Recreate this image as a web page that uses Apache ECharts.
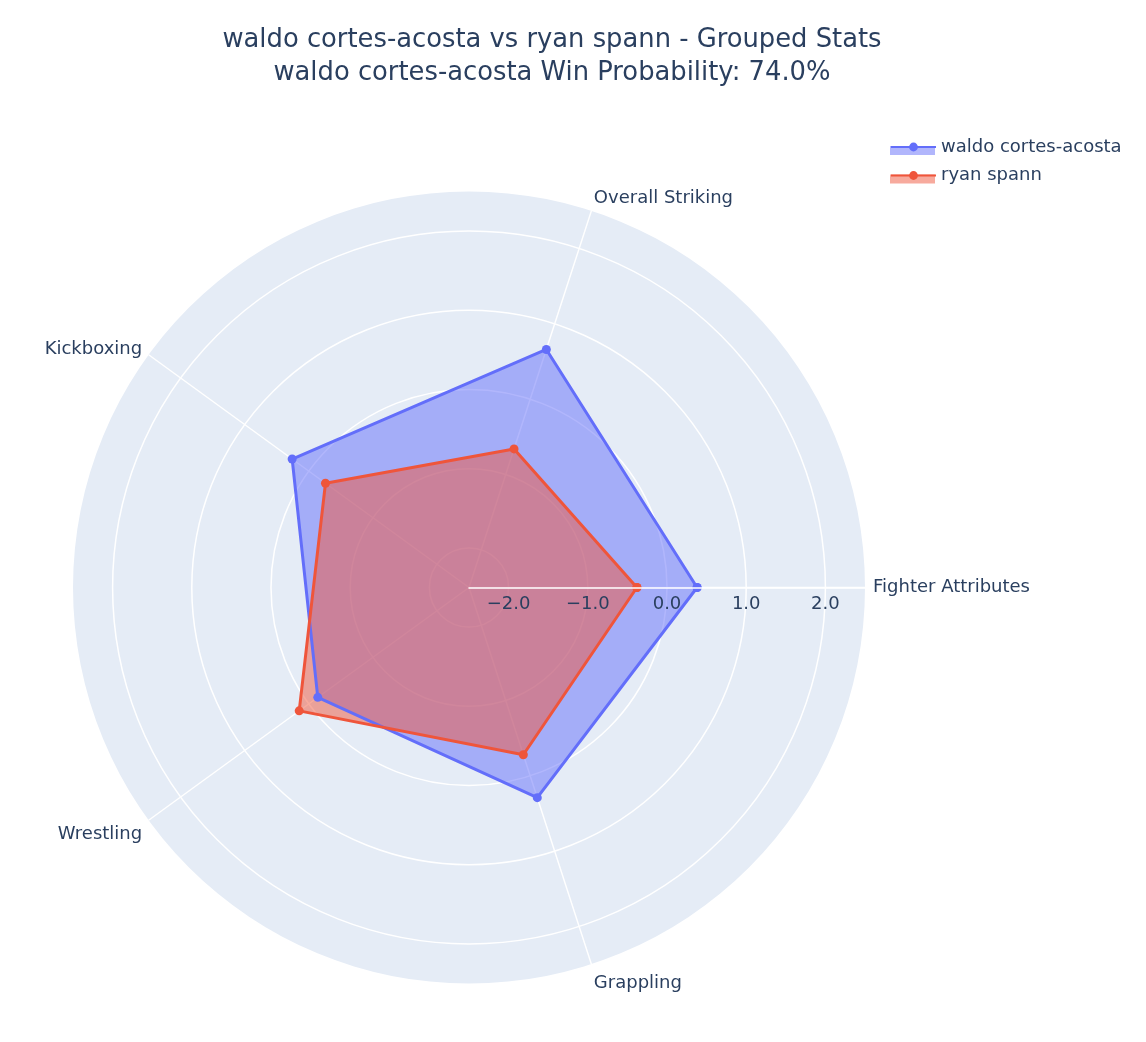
<!DOCTYPE html>
<html>
<head>
<meta charset="utf-8">
<title>waldo cortes-acosta vs ryan spann</title>
<script src="https://cdn.jsdelivr.net/npm/echarts@6/dist/echarts.min.js"></script>
<style>
  html, body { margin: 0; padding: 0; background: #fff; }
  #main { width: 1146px; height: 1042px; }
</style>
</head>
<body>
<div id="main"></div>
<script>
// categories (counter-clockwise from the right)
var categories = ['Fighter Attributes', 'Overall Striking', 'Kickboxing', 'Wrestling', 'Grappling'];
// grouped stats per fighter
var waldo = [0.38, 0.66, 0.26, -0.14, 0.29];
var ryan = [-0.38, -0.66, -0.26, 0.15, -0.28];
// radial tick labels
var radialTicks = [-2, -1, 0, 1, 2];
var radialMin = -2.5;
var radialMax = 2.5;

var FONT = 'DejaVu Sans';
var TEXT = '#2a3f5f';
var CENTER = [469, 587.5];
var RADIUS = 396;

// close the polygon: go back to the first category at 360 degrees
var step = 360 / categories.length;
var toPoints = function(vals){
    var pts = vals.map(function(v, i){ return [v, i * step]; });
    pts.push([vals[0], 360]);
    return pts;
};

var fmtTick = function(v){
    for (var i = 0; i < radialTicks.length; i++) {
        if (Math.abs(radialTicks[i] - v) < 1e-6) {
            return (v < 0 ? '\u2212' : '') + Math.abs(radialTicks[i]).toFixed(1);
        }
    }
    return '';
};

// line heights nudge the category labels to sit like the original
var catRich = {
    c0: { fontFamily: FONT, fontSize: 18, color: TEXT, lineHeight: 18 },
    c1: { fontFamily: FONT, fontSize: 18, color: TEXT, lineHeight: 10 },
    c2: { fontFamily: FONT, fontSize: 18, color: TEXT, lineHeight: 2 },
    c3: { fontFamily: FONT, fontSize: 18, color: TEXT, lineHeight: 18 },
    c4: { fontFamily: FONT, fontSize: 18, color: TEXT, lineHeight: 24 }
};

var angleBase = function(idx){
    return { polarIndex: idx, type: 'value', min: 0, max: 360, interval: step, startAngle: 0, clockwise: false };
};
var radiusBase = function(idx){
    return { polarIndex: idx, type: 'value', min: radialMin, max: radialMax, interval: 0.5 };
};

var myChart = echarts.init(document.getElementById('main'));
myChart.setOption({
    animation: false,
    backgroundColor: '#fff',
    title: {
        text: 'waldo cortes-acosta vs ryan spann - Grouped Stats\nwaldo cortes-acosta Win Probability: 74.0%',
        left: 547,
        top: 19,
        textAlign: 'center',
        textStyle: {
            fontFamily: FONT,
            fontSize: 25.8,
            fontWeight: 'normal',
            color: TEXT,
            lineHeight: 33
        }
    },
    legend: {
        orient: 'vertical',
        left: 885,
        top: 132,
        itemWidth: 45,
        itemHeight: 11,
        itemGap: 8.5,
        textStyle: { fontFamily: FONT, fontSize: 18, color: TEXT, lineHeight: 20 },
        data: ['waldo cortes-acosta', 'ryan spann']
    },
    graphic: [
        { type: 'rect', left: 890, top: 146, z: 1, shape: { width: 45, height: 9 }, style: { fill: 'rgba(99,110,250,0.5)' } },
        { type: 'rect', left: 890, top: 174.5, z: 1, shape: { width: 45, height: 9 }, style: { fill: 'rgba(239,85,59,0.5)' } }
    ],
    polar: [
        { center: CENTER, radius: RADIUS },   // background disk
        { center: CENTER, radius: RADIUS },   // grid lines + category labels
        { center: CENTER, radius: RADIUS }    // radial axis line + labels on top
    ],
    angleAxis: [
        Object.assign(angleBase(0), { show: false }),
        Object.assign(angleBase(1), {
            z: 1,
            axisLine: { show: false },
            axisTick: { show: false },
            axisLabel: {
                margin: 8,
                fontFamily: FONT,
                fontSize: 18,
                color: TEXT,
                rich: catRich,
                formatter: function(v){
                    var i = Math.round(v / step) % categories.length;
                    return '{c' + i + '|' + categories[i] + '}';
                }
            },
            splitLine: { show: true, lineStyle: { color: '#fff', width: 1.5 } },
            splitArea: { show: false }
        }),
        Object.assign(angleBase(2), { show: false })
    ],
    radiusAxis: [
        Object.assign(radiusBase(0), {
            z: 0,
            axisLine: { show: false },
            axisTick: { show: false },
            axisLabel: { show: false },
            splitLine: { show: false },
            splitArea: { show: true, areaStyle: { color: ['#E5ECF6'] } }
        }),
        Object.assign(radiusBase(1), {
            z: 1,
            axisLine: { show: false },
            axisTick: { show: false },
            axisLabel: { show: false },
            splitLine: { show: true, lineStyle: { color: ['rgba(0,0,0,0)', '#fff'], width: 1.5 } },
            splitArea: { show: false }
        }),
        Object.assign(radiusBase(2), {
            z: 10,
            axisLine: { show: true, lineStyle: { color: '#fff', width: 1.5 } },
            axisTick: { show: false },
            axisLabel: {
                margin: -26,
                fontFamily: FONT,
                fontSize: 18,
                color: TEXT,
                formatter: fmtTick
            },
            splitLine: { show: false },
            splitArea: { show: false }
        })
    ],
    series: [{
        name: 'waldo cortes-acosta',
        type: 'line',
        coordinateSystem: 'polar',
        polarIndex: 0,
        z: 2,
        data: toPoints(waldo),
        symbol: 'circle',
        symbolSize: 9,
        lineStyle: { color: '#636efa', width: 3 },
        itemStyle: { color: '#636efa' },
        areaStyle: { color: '#636efa', opacity: 0.5, origin: 'start' }
    }, {
        name: 'ryan spann',
        type: 'line',
        coordinateSystem: 'polar',
        polarIndex: 0,
        z: 2,
        data: toPoints(ryan),
        symbol: 'circle',
        symbolSize: 9,
        lineStyle: { color: '#EF553B', width: 3 },
        itemStyle: { color: '#EF553B' },
        areaStyle: { color: '#EF553B', opacity: 0.5, origin: 'start' }
    }]
});
</script>
</body>
</html>
